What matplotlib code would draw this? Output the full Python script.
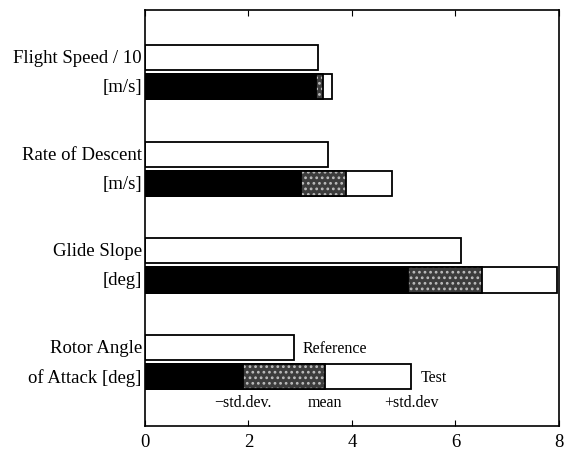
import matplotlib.pyplot as plt
import numpy as np

# quantities, top to bottom
labels_top = ["Flight Speed / 10", "Rate of Descent", "Glide Slope", "Rotor Angle"]
labels_bot = ["[m/s]", "[m/s]", "[deg]", "of Attack [deg]"]
reference = [3.34, 3.53, 6.10, 2.88]
test_lo = [3.30, 3.01, 5.08, 1.89]    # mean - std.dev.
test_mean = [3.44, 3.88, 6.52, 3.48]
test_hi = [3.61, 4.77, 7.97, 5.15]    # mean + std.dev.

plt.rcParams['font.family'] = ['Liberation Serif', 'DejaVu Serif']
plt.rcParams['hatch.linewidth'] = 1.2

fig = plt.figure(figsize=(5.64, 4.52), dpi=100)
ax = fig.add_axes([0.257, 0.055, 0.734, 0.921])

y = np.arange(len(reference))
off = 0.15
h = 0.26
lw = 1.3

ax.barh(y - off, reference, height=h, color='white', edgecolor='black', linewidth=lw)
# test bars: solid to -std, stippled to mean, open to +std
ax.barh(y + off, test_hi, height=h, color='white', edgecolor='black', linewidth=lw)
ax.barh(y + off, test_mean, height=h, color='#3c3c3c', edgecolor='#bdbdbd', linewidth=0,
        hatch='...')
ax.barh(y + off, test_mean, height=h, fill=False, edgecolor='black', linewidth=lw)
ax.barh(y + off, test_lo, height=h, color='black', edgecolor='black', linewidth=lw)

for i in range(len(y)):
    ax.text(-0.06, y[i] - off, labels_top[i], ha='right', va='center', fontsize=13.5)
    ax.text(-0.06, y[i] + off, labels_bot[i], ha='right', va='center', fontsize=13.5)

# notes on the last group
k = len(y) - 1
ax.text(reference[k] + 0.17, y[k] - off, "Reference", ha='left', va='center', fontsize=11.5)
ax.text(test_hi[k] + 0.17, y[k] + off, "Test", ha='left', va='center', fontsize=11.5)
ax.text(test_lo[k], y[k] + 0.41, "\u2212std.dev.", ha='center', va='center', fontsize=11.5)
ax.text(test_mean[k], y[k] + 0.41, "mean", ha='center', va='center', fontsize=11.5)
ax.text(test_hi[k], y[k] + 0.41, "+std.dev", ha='center', va='center', fontsize=11.5)

ax.set_xlim(0, 8)
ax.set_ylim(3.66, -0.64)
ax.set_xticks([0, 2, 4, 6, 8])
ax.set_yticks([])
ax.tick_params(axis='x', direction='in', top=True, labelsize=13.5, pad=5, length=4)
for s in ax.spines.values():
    s.set_linewidth(1.2)

fig.savefig("out.png", dpi=100)
